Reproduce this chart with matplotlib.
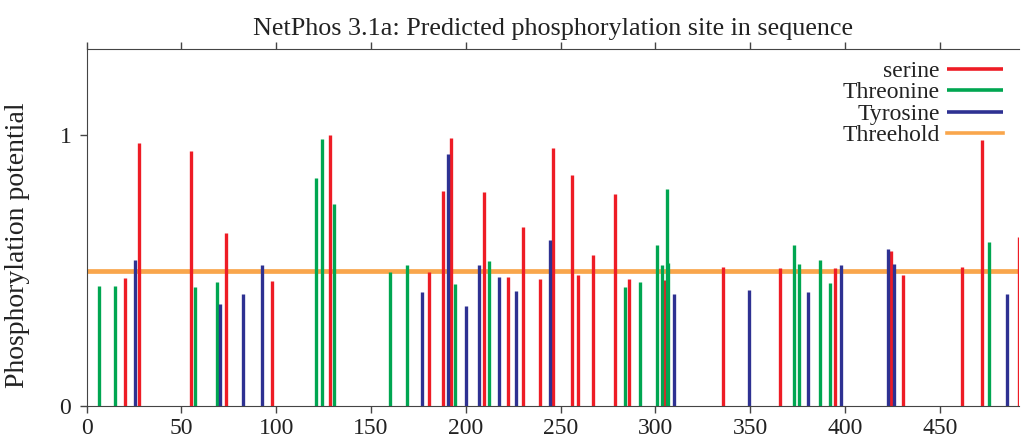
import numpy as np
import matplotlib.pyplot as plt

# positions (residue number) and scores
ser_pos = [20.2, 27.6, 55.1, 73.3, 97.6, 128.5, 180.6, 188.1, 192.4, 209.8, 222.3,
           230.2, 239.0, 246.2, 255.8, 259.2, 267.1, 278.5, 286.1, 304.7, 335.7,
           365.7, 394.7, 424.1, 430.7, 461.7, 472.1, 492.0]
ser_val = [0.472, 0.972, 0.942, 0.638, 0.461, 1.0, 0.494, 0.796, 0.989, 0.791, 0.477,
           0.66, 0.468, 0.953, 0.853, 0.483, 0.559, 0.783, 0.468, 0.464, 0.512,
           0.509, 0.509, 0.574, 0.484, 0.512, 0.984, 0.625]

thr_pos = [6.5, 15.0, 57.3, 68.6, 120.8, 124.0, 130.3, 160.0, 169.0, 194.5, 212.1,
           283.8, 291.9, 300.7, 303.3, 306.1, 306.8, 373.1, 375.6, 386.6, 392.2, 476.0]
thr_val = [0.444, 0.444, 0.44, 0.457, 0.842, 0.985, 0.746, 0.496, 0.519, 0.45, 0.535,
           0.44, 0.459, 0.594, 0.519, 0.802, 0.527, 0.594, 0.523, 0.538, 0.453, 0.605]

tyr_pos = [25.7, 70.4, 82.5, 92.5, 177.1, 190.8, 200.1, 207.1, 217.3, 226.6, 244.2,
           309.6, 349.5, 380.6, 397.7, 422.5, 426.0, 485.6]
tyr_val = [0.54, 0.375, 0.414, 0.521, 0.422, 0.931, 0.369, 0.519, 0.477, 0.424, 0.612,
           0.415, 0.427, 0.422, 0.519, 0.58, 0.526, 0.415]

threshold = 0.5
seq_len = 492

plt.rcParams['font.family'] = 'Liberation Serif'

fig = plt.figure(figsize=(10.21, 4.41), dpi=100)
ax = fig.add_axes([0.0848, 0.080, 0.9136, 0.809])

ax.axhline(threshold, color='#f9a64c', lw=3.4, zorder=1, label='Threehold')
ax.vlines(ser_pos, 0, ser_val, color='#ee1c25', lw=2.4, zorder=2, label='serine')
ax.vlines(thr_pos, 0, thr_val, color='#00a651', lw=2.4, zorder=2, label='Threonine')
ax.vlines(tyr_pos, 0, tyr_val, color='#2e3192', lw=2.4, zorder=2, label='Tyrosine')

ax.set_xlim(0, seq_len)
ax.set_ylim(0, 1.32)
ax.set_xticks(range(0, 500, 50))
ax.set_yticks([0, 1])
for s in ax.spines.values():
    s.set_color('#444444')
ax.spines['right'].set_visible(False)
ax.tick_params(top=True, direction='out', length=5, labelsize=17, width=1,
               color='#444444', labelcolor='#222222')
ax.tick_params(axis='x', pad=4)
ax.tick_params(axis='y', pad=6)
ax.set_title('NetPhos 3.1a: Predicted phosphorylation site in sequence',
             fontsize=18.8, pad=10, color='#222222')
ax.set_ylabel('Phosphorylation potential', fontsize=20, color='#222222')
ax.yaxis.set_label_coords(-0.061, 0.45)

h, l = ax.get_legend_handles_labels()
order = [1, 2, 3, 0]
leg = ax.legend([h[i] for i in order], [l[i] for i in order], loc='upper right',
                bbox_to_anchor=(0.9824, 0.968), frameon=False, markerfirst=False,
                fontsize=17, handlelength=2.37, labelspacing=0.0, handletextpad=0.3,
                borderaxespad=0, borderpad=0)
for t in leg.get_texts():
    t.set_color('#222222')
for line in leg.get_lines():
    line.set_linewidth(2.6)

fig.savefig('out.png')
